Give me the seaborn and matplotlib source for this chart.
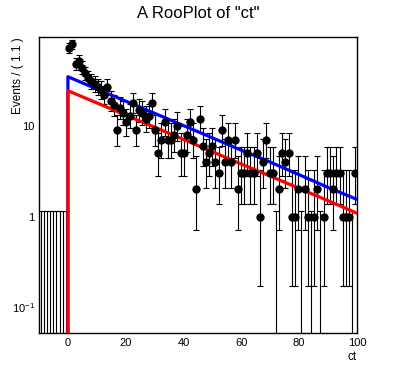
import numpy as np
import pandas as pd
import matplotlib
matplotlib.use('Agg')
import matplotlib.pyplot as plt
import matplotlib.ticker as mticker
import seaborn as sns

# binning of the RooPlot: 100 bins over [-10, 100] -> width 1.1
x_min, x_max, n_bins = -10.0, 100.0, 100

# events per bin (first 9 bins, x < 0, are empty)
counts = [0, 0, 0, 0, 0, 0, 0, 0, 0,
          72, 80, 48, 52, 44, 38, 34, 31, 29, 27,
          25, 22, 27, 19, 17, 9, 16, 14, 11, 13,
          18, 9, 15, 14, 12, 13, 18, 9, 5, 7,
          11, 7, 7, 8, 10, 5, 5, 8, 11, 7,
          2, 12, 6, 4, 5, 6, 4, 3, 9, 4,
          7, 4, 7, 2, 3, 3, 5, 3, 3, 5,
          1, 4, 7, 3, 3, 0, 2, 5, 4, 5,
          1, 1, 2, 0, 2, 1, 0, 1, 2, 0,
          1, 3, 3, 2, 3, 3, 1, 1, 1, 0, 3]

# model curves (total in blue, component in red)
curve_x = [0, 0, 10, 20, 30, 40, 50, 60, 70, 80, 90, 100]
total_pdf = [0.001, 35, 25.6, 18.8, 13.8, 10.1, 7.4, 5.4, 4.0, 2.9, 2.1, 1.55]
comp_pdf = [0.001, 24.5, 18.0, 13.2, 9.7, 7.1, 5.2, 3.8, 2.8, 2.05, 1.5, 1.09]

# RooFit poisson intervals for small counts
pois_lo = {0: 0.0, 1: 0.173, 2: 0.708, 3: 1.367, 4: 2.086, 5: 2.840,
           6: 3.620, 7: 4.419, 8: 5.232, 9: 6.057, 10: 6.891}
pois_hi = {0: 1.147, 1: 3.300, 2: 4.638, 3: 5.918, 4: 7.163, 5: 8.382,
           6: 9.584, 7: 10.77, 8: 11.95, 9: 13.11, 10: 14.27}


def interval(n):
    if n in pois_lo:
        return pois_lo[n], pois_hi[n]
    lo = n * (1 - 1 / (9 * n) - 1 / (3 * np.sqrt(n))) ** 3
    hi = n + np.sqrt(n + 0.75) + 1
    return lo, hi


width = (x_max - x_min) / n_bins
df = pd.DataFrame({'ct': x_min + width * (np.arange(n_bins) + 0.5), 'n': counts})
df['lo'] = [interval(n)[0] for n in df['n']]
df['hi'] = [interval(n)[1] for n in df['n']]
floor = 1e-3
df['y'] = df['n'].clip(lower=floor)
df['lo'] = df['lo'].clip(lower=floor)

sns.set_theme(style='white')
plt.rcParams['font.family'] = ['Liberation Sans', 'DejaVu Sans']
plt.rcParams['text.color'] = 'black'
plt.rcParams['mathtext.fontset'] = 'custom'
plt.rcParams['mathtext.rm'] = 'Liberation Sans'
plt.rcParams['mathtext.it'] = 'Liberation Sans'

fig = plt.figure(figsize=(3.96, 3.72), dpi=100)
ax = fig.add_axes([39 / 396, 1 - 333 / 372, 318 / 396, 296 / 372])
ax.set_yscale('log')

# error bars (zero bins run from the bottom up to 1.147)
ax.errorbar(df['ct'], df['y'], yerr=[df['y'] - df['lo'], df['hi'] - df['y']],
            fmt='none', ecolor='black', elinewidth=0.8, capsize=2.4, capthick=0.8, zorder=2)

sns.lineplot(x=curve_x, y=total_pdf, sort=False, estimator=None, color='#0000ff',
             linewidth=2.3, ax=ax, zorder=3)
sns.lineplot(x=curve_x, y=comp_pdf, sort=False, estimator=None, color='#ff0000',
             linewidth=2.3, ax=ax, zorder=4)

pts = df[df['n'] > 0]
sns.scatterplot(data=pts, x='ct', y='n', color='black', s=36, edgecolor='black',
                linewidth=0, ax=ax, zorder=5)

ax.set_xlim(x_min, x_max)
ax.set_ylim(0.052, 96)

ax.xaxis.set_major_locator(mticker.MultipleLocator(20))
ax.xaxis.set_minor_locator(mticker.MultipleLocator(5))
ax.yaxis.set_major_locator(mticker.LogLocator(base=10))
ax.yaxis.set_minor_locator(mticker.LogLocator(base=10, subs=np.arange(2, 10)))
ylabels = {0.1: '$10^{-1}$', 1: '1', 10: '10', 100: '100'}
ax.yaxis.set_major_formatter(mticker.FuncFormatter(
    lambda v, p: ylabels.get(round(v, 3), '')))
ax.yaxis.set_minor_formatter(mticker.NullFormatter())

ax.tick_params(axis='both', which='both', direction='in', top=False, right=False,
               colors='black', labelsize=8, width=0.8)
ax.tick_params(axis='x', which='major', length=6.5, pad=3.5)
ax.tick_params(axis='x', which='minor', length=3.3)
ax.tick_params(axis='y', which='major', length=7, pad=3)
ax.tick_params(axis='y', which='minor', length=3.5)
for s in ax.spines.values():
    s.set_color('black')
    s.set_linewidth(1.0)
ax.set_xlabel('')
ax.set_ylabel('')

fig.text(0.5, 1 - 13 / 372, 'A RooPlot of "ct"', ha='center', va='center',
         fontsize=12, color='black')
fig.text(357 / 396, 1 - 357 / 372, 'ct', ha='right', va='center', fontsize=8.5,
         color='black')
fig.text(18 / 396, 1 - 37 / 372, 'Events / ( 1.1 )', ha='center', va='top',
         rotation=90, fontsize=8.5, color='black')

fig.savefig('out.png', dpi=100, facecolor='white')
